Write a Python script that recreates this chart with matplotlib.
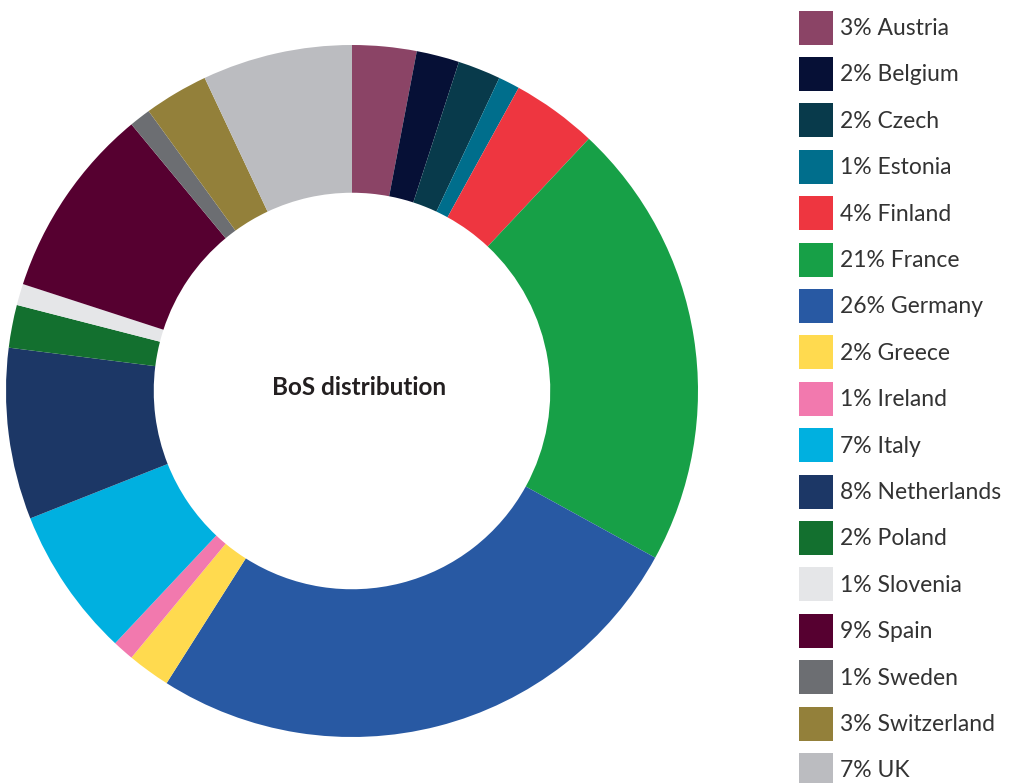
import matplotlib.pyplot as plt
from matplotlib.patches import Rectangle

# ---- data ----
countries = ["Austria", "Belgium", "Czech", "Estonia", "Finland", "France",
             "Germany", "Greece", "Ireland", "Italy", "Netherlands", "Poland",
             "Slovenia", "Spain", "Sweden", "Switzerland", "UK"]
shares = [3, 2, 2, 1, 4, 21, 26, 2, 1, 7, 8, 2, 1, 9, 1, 3, 7]
colors = ["#8B4466", "#061036", "#083A4B", "#006E8C", "#EE3640", "#17A047",
          "#2859A3", "#FFDA4F", "#F279AE", "#00B0E0", "#1C3766", "#13702F",
          "#E5E6E8", "#560030", "#6C6E72", "#93803A", "#BBBCC0"]
center_title = "BoS distribution"

W, H = 1015, 783
fig = plt.figure(figsize=(W / 100, H / 100), dpi=100)
plt.rcParams['font.family'] = ['Lato', 'DejaVu Sans']

# ---- donut ----
cx, cy, R = 352, 391, 346
ax = fig.add_axes([(cx - R) / W, (H - cy - R) / H, 2 * R / W, 2 * R / H])
ax.pie(shares, colors=colors, startangle=90, counterclock=False, radius=1,
       wedgeprops=dict(width=0.427, linewidth=0))
ax.set_xlim(-1, 1)
ax.set_ylim(-1, 1)
ax.set_aspect("equal")
ax.axis("off")
ax.text(0.02, 0.01, center_title, ha="center", va="center",
        fontsize=17.5, fontweight="bold", color="#231F20")

# ---- legend (pixel coords) ----
lx = fig.add_axes([790 / W, 0, 225 / W, 1])
lx.set_xlim(790, 1015)
lx.set_ylim(H, 0)
lx.axis("off")
for i, (name, val, col) in enumerate(zip(countries, shares, colors)):
    yc = 27.5 + 46.4 * i
    lx.add_patch(Rectangle((799, yc - 17), 34, 34, facecolor=col, edgecolor="none"))
    lx.text(840, yc + 1, f"{val}% {name}", ha="left", va="center",
            fontsize=16.5, color="#333333")

fig.savefig("out.png", dpi=100)
